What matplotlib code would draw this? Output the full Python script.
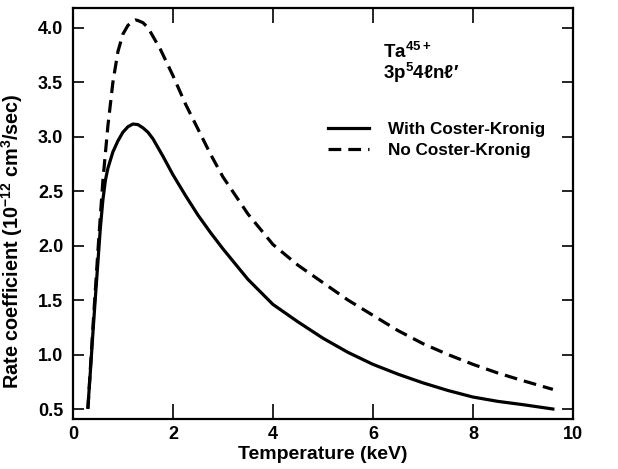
import matplotlib
matplotlib.use("Agg")
import matplotlib.pyplot as plt

plt.rcParams['font.family'] = ['Liberation Sans', 'DejaVu Sans']
plt.rcParams['font.weight'] = 'bold'
plt.rcParams['mathtext.fontset'] = 'custom'
plt.rcParams['mathtext.bf'] = 'Liberation Sans:bold'
plt.rcParams['mathtext.rm'] = 'Liberation Sans:bold'
plt.rcParams['mathtext.default'] = 'bf'

# data
t_with = [0.3, 0.35, 0.4, 0.45, 0.5, 0.55, 0.6, 0.65, 0.7, 0.8, 0.9, 1.0, 1.1, 1.2, 1.3,
          1.4, 1.5, 1.6, 1.8, 2.0, 2.25, 2.5, 2.75, 3.0, 3.5, 4.0, 4.5, 5.0, 5.5, 6.0,
          6.5, 7.0, 7.5, 8.0, 8.5, 9.0, 9.6]
rate_with = [0.52, 0.85, 1.2, 1.53, 1.85, 2.17, 2.42, 2.6, 2.71, 2.86, 2.96, 3.04, 3.09, 3.115, 3.11,
             3.08, 3.04, 2.98, 2.82, 2.65, 2.46, 2.28, 2.12, 1.97, 1.69, 1.46, 1.3, 1.15, 1.02, 0.91,
             0.82, 0.74, 0.67, 0.61, 0.57, 0.54, 0.5]

t_no = [0.3, 0.35, 0.4, 0.45, 0.5, 0.55, 0.6, 0.7, 0.8, 0.9, 1.0, 1.1, 1.2, 1.25, 1.3, 1.4,
        1.5, 1.75, 2.0, 2.25, 2.5, 2.75, 3.0, 3.5, 4.0, 4.5, 5.0, 5.5, 6.0, 6.5, 7.0,
        7.5, 8.0, 8.5, 9.0, 9.6]
rate_no = [0.5, 0.88, 1.25, 1.6, 1.95, 2.28, 2.6, 3.1, 3.5, 3.78, 3.94, 4.02, 4.06, 4.07, 4.065, 4.045,
           4.0, 3.8, 3.56, 3.3, 3.07, 2.84, 2.63, 2.29, 2.01, 1.82, 1.66, 1.5, 1.36, 1.22, 1.1,
           1.0, 0.91, 0.83, 0.76, 0.68]

fig = plt.figure(figsize=(6.18, 4.69), dpi=100)
ax = fig.add_axes([0.118, 0.107, 0.809, 0.876])

ax.plot(t_with, rate_with, color='black', lw=2.3, label='With Coster-Kronig')
ax.plot(t_no, rate_no, color='black', lw=2.3, dashes=(4, 2.2), label='No Coster-Kronig')

ax.set_xlim(0, 10)
ax.set_ylim(0.41, 4.18)
ax.set_xticks([0, 2, 4, 6, 8, 10])
ax.set_yticks([0.5, 1.0, 1.5, 2.0, 2.5, 3.0, 3.5, 4.0])
ax.set_yticklabels(['0.5', '1.0', '1.5', '2.0', '2.5', '3.0', '3.5', '4.0'])
ax.tick_params(direction='in', width=1.2, top=True, right=True, labelsize=13)
ax.tick_params(axis='x', length=11, pad=5)
ax.tick_params(axis='y', length=8, pad=7)
for s in ax.spines.values():
    s.set_linewidth(1.6)

ax.set_xlabel('Temperature (keV)', fontsize=14, fontweight='bold', labelpad=2)
ax.set_ylabel(r'Rate coefficient (10$^{-12}$ cm$^3$/sec)', fontsize=14.3, fontweight='bold')
ax.yaxis.set_label_coords(-0.096, 0.433)

ax.text(6.2, 3.78, r'Ta$^{45+}$', fontsize=13.5, fontweight='bold', va='center')
ax.text(6.2, 3.585, '3p$^5$4ℓnℓ′', fontsize=13.5, fontweight='bold', va='center')

ax.legend(loc='upper left', bbox_to_anchor=(0.48, 0.76), frameon=False, fontsize=12.3,
          handlelength=2.4, handletextpad=1.1, labelspacing=0.33)

fig.savefig('out.png', dpi=100)
